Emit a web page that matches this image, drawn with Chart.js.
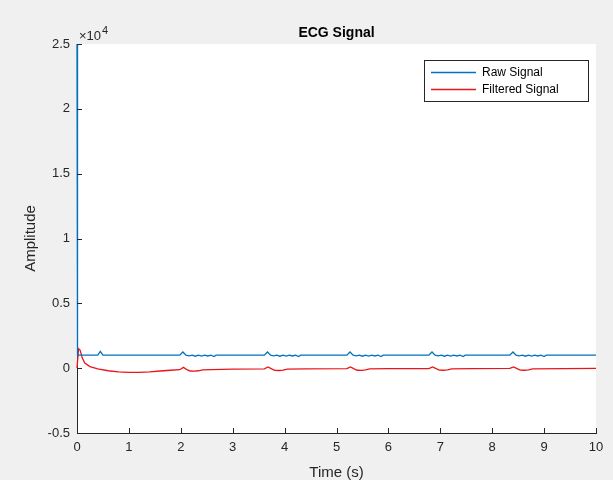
<!DOCTYPE html>
<html>
<head>
<meta charset="utf-8">
<script src="https://cdn.jsdelivr.net/npm/chart.js@4"></script>
<style>
  html, body { margin: 0; padding: 0; background: #f0f0f0; }
  #wrap { width: 613px; height: 480px; position: relative; }
</style>
</head>
<body>
<div id="wrap"><canvas id="c" width="613" height="480"></canvas></div>
<script>
// ---- data (amplitude in raw units; axis shows ×10^4) ----
const chartTitle = "ECG Signal";
const xTitle = "Time (s)";
const yTitle = "Amplitude";
const seriesLabels = ["Raw Signal", "Filtered Signal"];
const xTicks = [0, 1, 2, 3, 4, 5, 6, 7, 8, 9, 10];
const yTicks = [-5000, 0, 5000, 10000, 15000, 20000, 25000];

const rawTime = [
  0, 0.01, 0.40, 0.45, 0.50,
  1.98, 2.04, 2.10, 2.16, 2.22, 2.28, 2.34, 2.40, 2.46, 2.52, 2.58, 2.64, 2.68,
  3.61, 3.67, 3.73, 3.79, 3.85, 3.91, 3.97, 4.03, 4.09, 4.15, 4.21, 4.27, 4.31,
  5.20, 5.26, 5.32, 5.38, 5.44, 5.50, 5.56, 5.62, 5.68, 5.74, 5.80, 5.86, 5.90,
  6.78, 6.84, 6.90, 6.96, 7.02, 7.08, 7.14, 7.20, 7.26, 7.32, 7.38, 7.44, 7.48,
  8.34, 8.40, 8.46, 8.52, 8.58, 8.64, 8.70, 8.76, 8.82, 8.88, 8.94, 9.00, 9.04,
  10
];
const rawAmp = [
  25000, 1000, 1000, 1300, 1000,
  1000, 1250, 1000, 950, 1000, 920, 1000, 930, 1000, 940, 1000, 900, 1000,
  1000, 1250, 1000, 950, 1000, 920, 1000, 930, 1000, 940, 1000, 900, 1000,
  1000, 1250, 1000, 950, 1000, 920, 1000, 930, 1000, 940, 1000, 900, 1000,
  1000, 1250, 1000, 950, 1000, 920, 1000, 930, 1000, 940, 1000, 900, 1000,
  1000, 1250, 1000, 950, 1000, 920, 1000, 930, 1000, 940, 1000, 900, 1000,
  1000
];

const filtTime = [
  0, 0.03, 0.06, 0.10, 0.15, 0.25, 0.40, 0.60, 0.80, 1.00,
  1.20, 1.40, 1.60, 1.80, 1.98,
  2.05, 2.12, 2.18, 2.26, 2.34, 2.42, 2.60, 3.00,
  3.61, 3.68, 3.75, 3.81, 3.89, 3.97, 4.05, 4.40,
  5.20, 5.27, 5.34, 5.40, 5.48, 5.56, 5.64, 6.00,
  6.78, 6.85, 6.92, 6.98, 7.06, 7.14, 7.22, 7.60,
  8.34, 8.41, 8.48, 8.54, 8.62, 8.70, 8.78,
  10
];
const filtAmp = [
  0, 1500, 1400, 800, 400, 120, -60, -200, -290, -320,
  -320, -280, -220, -160, -120,
  60, -120, -220, -230, -200, -130, -110, -80,
  -60, 90, -60, -170, -180, -150, -80, -60,
  -40, 100, -50, -160, -170, -140, -60, -40,
  -30, 100, -40, -150, -160, -130, -50, -30,
  -20, 100, -40, -150, -160, -130, -50,
  -10
];

const rawColor = "#0072BD";
const filtColor = "#E8161B";
const axisColor = "#262626";
const FONT = "'Liberation Sans', Arial, Helvetica, sans-serif";

const toPts = (t, y) => t.map((v, i) => ({ x: v, y: y[i] }));

const decorPlugin = {
  id: "decor",
  beforeDraw(chart) {
    const { ctx, chartArea: a } = chart;
    ctx.save();
    ctx.fillStyle = "#f0f0f0";
    ctx.fillRect(0, 0, chart.width, chart.height);
    ctx.fillStyle = "#ffffff";
    ctx.fillRect(a.left, a.top, a.right - a.left, a.bottom - a.top);
    ctx.restore();
  },
  afterDraw(chart) {
    const { ctx, chartArea: a, scales } = chart;
    ctx.save();
    // inward ticks
    ctx.strokeStyle = axisColor;
    ctx.lineWidth = 1;
    ctx.beginPath();
    xTicks.forEach(v => {
      const px = Math.round(scales.x.getPixelForValue(v)) + 0.5;
      ctx.moveTo(px, a.bottom);
      ctx.lineTo(px, a.bottom - 5);
    });
    yTicks.forEach(v => {
      const py = Math.round(scales.y.getPixelForValue(v)) + 0.5;
      ctx.moveTo(a.left, py);
      ctx.lineTo(a.left + 5, py);
    });
    ctx.stroke();

    // title
    ctx.fillStyle = "#000";
    ctx.font = "bold 14px " + FONT;
    ctx.textAlign = "center";
    ctx.textBaseline = "alphabetic";
    ctx.fillText(chartTitle, (a.left + a.right) / 2, 37);

    // axis titles
    ctx.fillStyle = axisColor;
    ctx.font = "15px " + FONT;
    ctx.fillText(xTitle, (a.left + a.right) / 2, 477);
    ctx.save();
    ctx.translate(35, (a.top + a.bottom) / 2);
    ctx.rotate(-Math.PI / 2);
    ctx.textBaseline = "alphabetic";
    ctx.fillText(yTitle, 0, 0);
    ctx.restore();

    // exponent
    ctx.textAlign = "left";
    ctx.font = "13px " + FONT;
    ctx.fillText("\u00d710", a.left + 2, 40);
    const w = ctx.measureText("\u00d710").width;
    ctx.font = "11px " + FONT;
    ctx.fillText("4", a.left + 2 + w + 1, 34);

    // legend
    const lx = 424, ly = 60, lw = 164, lh = 41;
    ctx.fillStyle = "#fff";
    ctx.fillRect(lx, ly, lw, lh);
    ctx.strokeStyle = "#262626";
    ctx.lineWidth = 1;
    ctx.strokeRect(lx + 0.5, ly + 0.5, lw, lh);
    chart.data.datasets.forEach((ds, i) => {
      const y = ly + 12 + i * 17;
      ctx.strokeStyle = ds.borderColor;
      ctx.lineWidth = 1.3;
      ctx.beginPath();
      ctx.moveTo(lx + 7, y + 0.5);
      ctx.lineTo(lx + 52, y + 0.5);
      ctx.stroke();
      ctx.fillStyle = "#000";
      ctx.font = "12px " + FONT;
      ctx.textBaseline = "middle";
      ctx.fillText(ds.label, lx + 58, y + 1);
    });
    ctx.restore();
  }
};

new Chart(document.getElementById("c"), {
  type: "line",
  data: {
    datasets: [
      { label: seriesLabels[0], data: toPts(rawTime, rawAmp), borderColor: rawColor,
        backgroundColor: rawColor, borderWidth: 1.3, pointRadius: 0, tension: 0, clip: 3 },
      { label: seriesLabels[1], data: toPts(filtTime, filtAmp), borderColor: filtColor,
        backgroundColor: filtColor, borderWidth: 1.3, pointRadius: 0, tension: 0, clip: 3 }
    ]
  },
  options: {
    responsive: false,
    animation: false,
    devicePixelRatio: 1,
    layout: { padding: { left: 0, right: 17, top: 44, bottom: 0 } },
    plugins: { legend: { display: false }, title: { display: false }, tooltip: { enabled: false } },
    scales: {
      x: {
        type: "linear", min: 0, max: 10,
        afterBuildTicks: s => { s.ticks = xTicks.map(v => ({ value: v })); },
        afterFit: s => { s.height = 47; },
        grid: { display: false, drawTicks: false },
        border: { display: true, color: axisColor, width: 1 },
        ticks: { color: axisColor, font: { family: FONT, size: 13 }, padding: 7, maxRotation: 0 }
      },
      y: {
        type: "linear", min: -5000, max: 25000,
        afterBuildTicks: s => { s.ticks = yTicks.map(v => ({ value: v })); },
        afterFit: s => { s.width = 77; },
        grid: { display: false, drawTicks: false },
        border: { display: true, color: axisColor, width: 1 },
        ticks: { color: axisColor, font: { family: FONT, size: 13 }, padding: 7,
                 callback: v => String(v / 10000) }
      }
    }
  },
  plugins: [decorPlugin]
});
</script>
</body>
</html>
